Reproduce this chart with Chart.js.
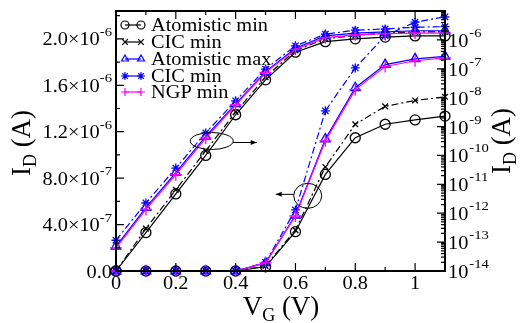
<!DOCTYPE html>
<html>
<head>
<meta charset="utf-8">
<script src="https://cdn.jsdelivr.net/npm/chart.js@4/dist/chart.umd.min.js"></script>
<style>
html, body { margin: 0; padding: 0; background: #fff; }
#wrap { width: 520px; height: 323px; position: relative; }
</style>
</head>
<body>
<div id="wrap"><canvas id="chart"></canvas></div>
<script>
// gate voltage (V)
const vg = [0, 0.1, 0.2, 0.3, 0.4, 0.5, 0.6, 0.7, 0.8, 0.9, 1.0, 1.1];

// linear current, left axis (A)
const atomMinLin = [0, 3.31e-7, 6.64e-7, 9.96e-7, 1.346e-6, 1.647e-6, 1.885e-6, 1.976e-6, 2.0e-6, 2.015e-6, 2.025e-6, 2.025e-6];
const cicMinLin = [0, 3.65e-7, 7.0e-7, 1.035e-6, 1.37e-6, 1.67e-6, 1.9e-6, 2.0e-6, 2.03e-6, 2.05e-6, 2.06e-6, 2.06e-6];
const atomMaxLin = [2.13e-7, 5.46e-7, 8.47e-7, 1.159e-6, 1.44e-6, 1.718e-6, 1.919e-6, 2.025e-6, 2.05e-6, 2.06e-6, 2.07e-6, 2.07e-6];
const cicMin2Lin = [2.65e-7, 5.86e-7, 8.87e-7, 1.19e-6, 1.466e-6, 1.74e-6, 1.94e-6, 2.04e-6, 2.075e-6, 2.085e-6, 2.1e-6, 2.105e-6];
const ngpMinLin = [2.0e-7, 5.3e-7, 8.3e-7, 1.145e-6, 1.43e-6, 1.71e-6, 1.91e-6, 2.01e-6, 2.035e-6, 2.045e-6, 2.05e-6, 2.05e-6];

// same currents on log scale, right axis (A)
const atomMinLog = [1e-14, 1e-14, 1e-14, 1e-14, 1e-14, 1.4e-14, 2.3e-13, 2.2e-11, 4.1e-10, 1.2e-9, 1.7e-9, 2.3e-9];
const cicMinLog = [1e-14, 1e-14, 1e-14, 1e-14, 1e-14, 1.5e-14, 2.6e-13, 4e-11, 1.2e-9, 5e-9, 8e-9, 1.07e-8];
const atomMaxLog = [1e-14, 1e-14, 1e-14, 1e-14, 1e-14, 1.9e-14, 8.5e-13, 3.7e-10, 2.2e-8, 1.4e-7, 2.2e-7, 2.7e-7];
const cicMin2Log = [1e-14, 1e-14, 1e-14, 1e-14, 1e-14, 2.0e-14, 1.3e-12, 3.5e-9, 1.07e-7, 1.4e-6, 4.1e-6, 6.3e-6];
const ngpMinLog = [1e-14, 1e-14, 1e-14, 1e-14, 1e-14, 1.9e-14, 8.0e-13, 3.2e-10, 1.9e-8, 1.2e-7, 1.9e-7, 2.4e-7];

const seriesNames = ['Atomistic min', 'CIC min', 'Atomistic max', 'CIC min', 'NGP min'];

// tick labels
const xTickVals = [0, 0.2, 0.4, 0.6, 0.8, 1.0];
const xTickText = ['0', '0.2', '0.4', '0.6', '0.8', '1'];
const yTickVals = [0, 4e-7, 8e-7, 1.2e-6, 1.6e-6, 2.0e-6];
const yTickMant = ['0.0', '4.0', '8.0', '1.2', '1.6', '2.0'];
const yTickExp = ['', '-7', '-7', '-6', '-6', '-6'];
const y2TickExp = [-14, -13, -12, -11, -10, -9, -8, -7, -6];

const styles = [
    { color: '#000000', pointStyle: 'circle', radius: 5, dash: [] },
    { color: '#000000', pointStyle: 'crossRot', radius: 4, dash: [7, 3, 2, 3] },
    { color: '#0000ff', pointStyle: 'triangle', radius: 5.5, dash: [] },
    { color: '#0000ff', pointStyle: 'star', radius: 4.5, dash: [7, 3, 2, 3] },
    { color: '#ff00ff', pointStyle: 'cross', radius: 6, dash: [] }
];

const linSeries = [atomMinLin, cicMinLin, atomMaxLin, cicMin2Lin, ngpMinLin];
const logSeries = [atomMinLog, cicMinLog, atomMaxLog, cicMin2Log, ngpMinLog];

function makeSet(name, values, st, axis, order) {
    return {
        label: name,
        data: vg.map((x, i) => ({ x: x, y: values[i] })),
        yAxisID: axis,
        borderColor: st.color,
        backgroundColor: 'rgba(0,0,0,0)',
        pointBackgroundColor: 'rgba(0,0,0,0)',
        pointBorderColor: st.color,
        pointStyle: st.pointStyle,
        pointRadius: st.radius,
        pointBorderWidth: 1.3,
        borderWidth: 1.2,
        borderDash: st.dash,
        tension: 0,
        clip: false,
        order: order
    };
}

const datasets = [];
for (let i = 0; i < 5; i++) {
    datasets.push(makeSet(seriesNames[i], linSeries[i], styles[i], 'y', 10 - i));
    datasets.push(makeSet(seriesNames[i], logSeries[i], styles[i], 'y2', 10 - i));
}

const SERIF = '"Liberation Serif", "DejaVu Serif", serif';
const SX = 1.13; // the original's serif face is a bit wider than Liberation Serif

const decorPlugin = {
    id: 'decor',
    afterDraw(chart) {
        const ctx = chart.ctx;
        const a = chart.chartArea;
        const xs = chart.scales.x, ys = chart.scales.y, y2 = chart.scales.y2;
        ctx.save();
        ctx.strokeStyle = '#000';
        ctx.fillStyle = '#000';

        // stretched text helper, returns drawn width
        function txt(s, x, y, size, align) {
            ctx.font = size + 'px ' + SERIF;
            const w = ctx.measureText(s).width * SX;
            const x0 = align === 'right' ? x - w : align === 'center' ? x - w / 2 : x;
            ctx.save();
            ctx.translate(x0, y);
            ctx.scale(SX, 1);
            ctx.textAlign = 'left';
            ctx.textBaseline = 'alphabetic';
            ctx.fillText(s, 0, 0);
            ctx.restore();
            return w;
        }

        // frame
        ctx.lineWidth = 2;
        ctx.strokeRect(a.left, a.top, a.right - a.left, a.bottom - a.top);

        // inside ticks
        ctx.lineWidth = 1.2;
        ctx.beginPath();
        for (let k = 0; k <= 11; k++) {
            const px = xs.getPixelForValue(k / 10);
            const len = k % 2 === 0 ? 8 : 4;
            ctx.moveTo(px, a.bottom); ctx.lineTo(px, a.bottom - len);
            ctx.moveTo(px, a.top); ctx.lineTo(px, a.top + len);
        }
        for (let k = 0; k <= 11; k++) {
            const py = ys.getPixelForValue(k * 2e-7);
            const len = k % 2 === 0 ? 8 : 4;
            ctx.moveTo(a.left, py); ctx.lineTo(a.left + len, py);
        }
        for (let e = -14; e <= -6; e++) {
            for (let m = 1; m <= 9; m++) {
                const v = m * Math.pow(10, e);
                if (v > 1e-5) break;
                const py = y2.getPixelForValue(v);
                const len = m === 1 ? 8 : 4;
                ctx.moveTo(a.right, py); ctx.lineTo(a.right - len, py);
            }
        }
        ctx.stroke();

        // x tick labels
        xTickVals.forEach((v, i) => {
            txt(xTickText[i], xs.getPixelForValue(v), a.bottom + 18, 18, 'center');
        });

        // left tick labels
        yTickVals.forEach((v, i) => {
            const py = ys.getPixelForValue(v);
            const right = a.left - 4;
            if (yTickExp[i]) {
                const w = txt(yTickExp[i], right, py - 3, 13, 'right');
                txt(yTickMant[i] + '\u00d710', right - w, py + 6.5, 18, 'right');
            } else {
                txt(yTickMant[i], right, py + 6.5, 18, 'right');
            }
        });

        // right tick labels
        y2TickExp.forEach(e => {
            const py = y2.getPixelForValue(Math.pow(10, e));
            const w = txt('10', a.right + 3, py + 7, 18, 'left');
            txt(String(e), a.right + 4 + w, py - 3, 13, 'left');
        });

        // axis titles
        function title(parts, x, y, rot) {
            ctx.save();
            ctx.translate(x, y);
            ctx.rotate(rot);
            let total = 0;
            parts.forEach(p => { ctx.font = p.size + 'px ' + SERIF; total += ctx.measureText(p.t).width; });
            let cx = -total / 2;
            ctx.textAlign = 'left';
            parts.forEach(p => {
                ctx.font = p.size + 'px ' + SERIF;
                ctx.fillText(p.t, cx, p.dy);
                cx += ctx.measureText(p.t).width;
            });
            ctx.restore();
        }
        const yTitle = [{ t: 'I', size: 27, dy: 0 }, { t: 'D', size: 18, dy: 6 }, { t: ' (A)', size: 27, dy: 0 }];
        title(yTitle, 30, 143, -Math.PI / 2);
        title(yTitle, 510, 141, -Math.PI / 2);
        title([{ t: 'V', size: 27, dy: 0 }, { t: 'G', size: 18, dy: 6 }, { t: ' (V)', size: 27, dy: 0 }], 281, 315, 0);

        // legend
        const rowY = [25, 42, 59, 76, 92];
        styles.forEach((st, i) => {
            const y = rowY[i];
            ctx.strokeStyle = st.color;
            ctx.lineWidth = 1.2;
            ctx.setLineDash([]);
            ctx.beginPath();
            ctx.moveTo(125, y); ctx.lineTo(141, y);
            ctx.stroke();
            const opt = { pointStyle: st.pointStyle, radius: 4, borderWidth: 1.3, rotation: 0 };
            ctx.fillStyle = 'rgba(0,0,0,0)';
            Chart.helpers.drawPoint(ctx, opt, 125, y);
            Chart.helpers.drawPoint(ctx, opt, 141, y);
            ctx.fillStyle = '#000';
            txt(seriesNames[i], 151, y + 6, 18, 'left');
        });

        // annotation ellipses and arrows
        ctx.strokeStyle = '#000';
        ctx.fillStyle = '#000';
        ctx.lineWidth = 1;
        function arrow(x1, y1, x2, y2p) {
            ctx.beginPath();
            ctx.moveTo(x1, y1); ctx.lineTo(x2, y2p);
            ctx.stroke();
            const d = Math.sign(x2 - x1);
            ctx.beginPath();
            ctx.moveTo(x2, y2p);
            ctx.lineTo(x2 - d * 6, y2p - 2.5);
            ctx.lineTo(x2 - d * 6, y2p + 2.5);
            ctx.closePath();
            ctx.fill();
        }
        const e1x = xs.getPixelForValue(0.32), e1y = ys.getPixelForValue(1.12e-6);
        ctx.beginPath();
        ctx.ellipse(e1x, e1y, 21.5, 8.5, 0, 0, Math.PI * 2);
        ctx.stroke();
        arrow(e1x + 21.5, e1y + 1.5, e1x + 45, e1y + 1.5);

        const e2x = xs.getPixelForValue(0.641), e2y = y2.getPixelForValue(4e-12);
        ctx.beginPath();
        ctx.ellipse(e2x, e2y, 14, 12.5, 0, 0, Math.PI * 2);
        ctx.stroke();
        arrow(e2x - 14, e2y - 1.5, e2x - 32, e2y - 1.5);

        ctx.restore();
    }
};

new Chart(document.getElementById('chart').getContext('2d'), {
    type: 'line',
    data: { datasets: datasets },
    options: {
        responsive: true,
        maintainAspectRatio: false,
        animation: false,
        layout: { padding: { top: 11, left: 0, right: 0, bottom: 0 } },
        plugins: { legend: { display: false }, tooltip: { enabled: false } },
        scales: {
            x: {
                type: 'linear', min: 0, max: 1.1,
                grid: { display: false }, border: { display: false },
                ticks: { display: false },
                afterFit: s => { s.height = 52; }
            },
            y: {
                type: 'linear', position: 'left', min: 0, max: 2.24e-6,
                grid: { display: false }, border: { display: false },
                ticks: { display: false },
                afterFit: s => { s.width = 116; }
            },
            y2: {
                type: 'logarithmic', position: 'right', min: 1e-14, max: 1e-5,
                grid: { display: false }, border: { display: false },
                ticks: { display: false },
                afterFit: s => { s.width = 75; }
            }
        }
    },
    plugins: [decorPlugin]
});
</script>
</body>
</html>
